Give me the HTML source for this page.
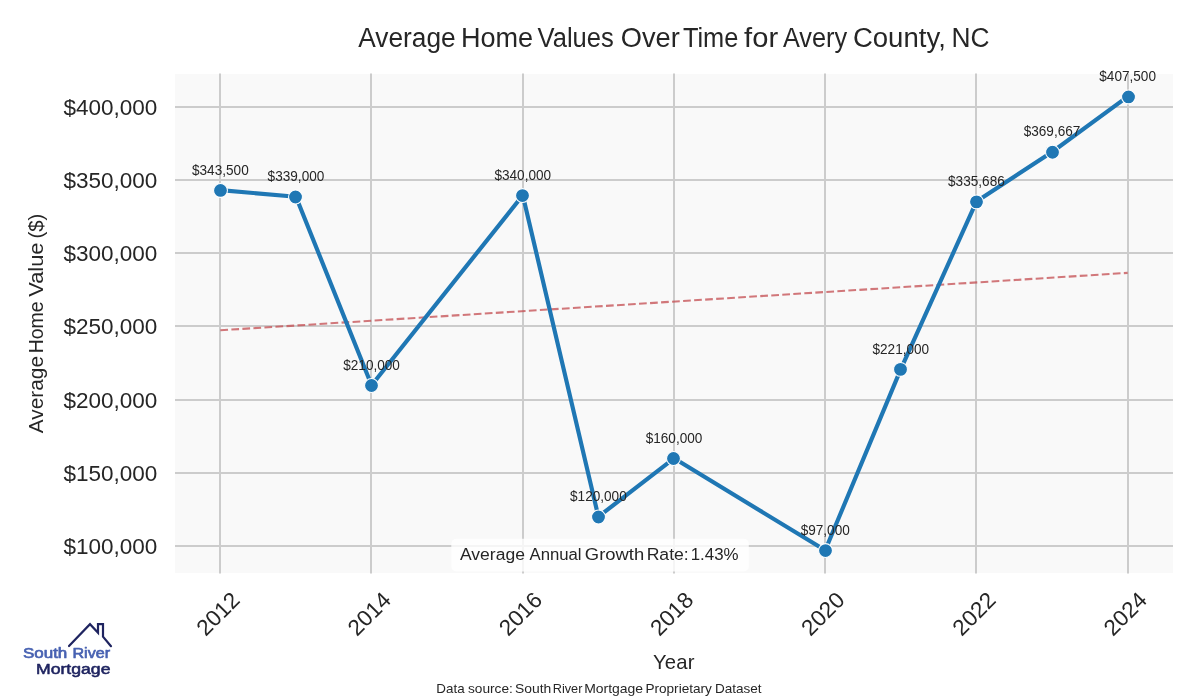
<!DOCTYPE html>
<html lang="en"><head><meta charset="utf-8"><title>Average Home Values Over Time for Avery County, NC</title>
<style>
html,body{margin:0;padding:0;background:#fff;}
body{width:1200px;height:700px;overflow:hidden;}
svg{display:block;}
text{font-family:"Liberation Sans",Arial,sans-serif;fill:#262626;}
.tick{font-size:22.5px;}
.ann{font-size:14.5px;text-anchor:middle;}
</style></head><body>
<svg width="1200" height="700" viewBox="0 0 1200 700">
<rect x="0" y="0" width="1200" height="700" fill="#ffffff"/>
<rect x="175" y="74" width="998" height="499" fill="#f9f9f9"/>
<g stroke="#cccccc" stroke-width="2" stroke-linecap="butt">
<line x1="220" y1="73.5" x2="220" y2="573.5"/>
<line x1="371" y1="73.5" x2="371" y2="573.5"/>
<line x1="523" y1="73.5" x2="523" y2="573.5"/>
<line x1="674" y1="73.5" x2="674" y2="573.5"/>
<line x1="825" y1="73.5" x2="825" y2="573.5"/>
<line x1="976" y1="73.5" x2="976" y2="573.5"/>
<line x1="1128" y1="73.5" x2="1128" y2="573.5"/>
<line x1="175" y1="546" x2="1173" y2="546"/>
<line x1="175" y1="473" x2="1173" y2="473"/>
<line x1="175" y1="400" x2="1173" y2="400"/>
<line x1="175" y1="326" x2="1173" y2="326"/>
<line x1="175" y1="253" x2="1173" y2="253"/>
<line x1="175" y1="180" x2="1173" y2="180"/>
<line x1="175" y1="107" x2="1173" y2="107"/>
</g>
<line x1="220.36" y1="330.28" x2="1127.64" y2="272.88" stroke="#c44e52" stroke-opacity="0.76" stroke-width="2.08" stroke-dasharray="7.71 3.33"/>
<polyline points="220.36,190.18 295.97,196.76 371.58,385.23 522.79,195.30 598.39,516.72 674.00,458.28 825.21,550.32 900.82,369.16 976.42,201.60 1052.03,151.96 1127.64,96.68" fill="none" stroke="#1f77b4" stroke-width="4.17" stroke-linejoin="round" stroke-linecap="round"/>
<g fill="#1f77b4" stroke="#ffffff" stroke-width="1.04">
<circle cx="220.50" cy="190.43" r="6.94"/>
<circle cx="295.50" cy="197.01" r="6.94"/>
<circle cx="371.50" cy="385.48" r="6.94"/>
<circle cx="522.50" cy="195.55" r="6.94"/>
<circle cx="598.50" cy="516.97" r="6.94"/>
<circle cx="673.50" cy="458.53" r="6.94"/>
<circle cx="825.50" cy="550.57" r="6.94"/>
<circle cx="900.50" cy="369.41" r="6.94"/>
<circle cx="976.50" cy="201.85" r="6.94"/>
<circle cx="1052.50" cy="152.21" r="6.94"/>
<circle cx="1128.50" cy="96.93" r="6.94"/>
</g>
<g class="ann">
<text transform="translate(220.36 174.58) scale(0.939 1)">$343,500</text>
<text transform="translate(295.97 181.16) scale(0.939 1)">$339,000</text>
<text transform="translate(371.58 369.63) scale(0.939 1)">$210,000</text>
<text transform="translate(522.79 179.70) scale(0.939 1)">$340,000</text>
<text transform="translate(598.39 501.12) scale(0.939 1)">$120,000</text>
<text transform="translate(674.00 442.68) scale(0.939 1)">$160,000</text>
<text transform="translate(825.21 534.72) scale(0.939 1)">$97,000</text>
<text transform="translate(900.82 353.56) scale(0.939 1)">$221,000</text>
<text transform="translate(976.42 186.00) scale(0.939 1)">$335,686</text>
<text transform="translate(1052.03 136.36) scale(0.939 1)">$369,667</text>
<text transform="translate(1127.64 81.08) scale(0.939 1)">$407,500</text>
</g>
<rect x="451.3" y="538.7" width="297.5" height="32.8" rx="5" ry="5" fill="#ffffff" fill-opacity="0.8"/>
<g font-size="15.6" ><text transform="translate(459.97 559.6) scale(1.1241 1)">Average</text> <text transform="translate(529.47 559.6) scale(1.0737 1)">Annual</text> <text transform="translate(584.87 559.6) scale(1.1798 1)">Growth</text> <text transform="translate(646.65 559.6) scale(1.1306 1)">Rate:</text> <text transform="translate(690.71 559.6) scale(1.0826 1)">1.43%</text></g>
<g class="tick" text-anchor="end">
<text x="157.3" y="553.90">$100,000</text>
<text x="157.3" y="480.90">$150,000</text>
<text x="157.3" y="407.90">$200,000</text>
<text x="157.3" y="333.90">$250,000</text>
<text x="157.3" y="260.90">$300,000</text>
<text x="157.3" y="187.90">$350,000</text>
<text x="157.3" y="114.90">$400,000</text>
</g>
<g class="tick" text-anchor="middle">
<text x="217.86" y="621.50" transform="rotate(-45 217.86 613.60)">2012</text>
<text x="369.08" y="621.50" transform="rotate(-45 369.08 613.60)">2014</text>
<text x="520.29" y="621.50" transform="rotate(-45 520.29 613.60)">2016</text>
<text x="671.50" y="621.50" transform="rotate(-45 671.50 613.60)">2018</text>
<text x="822.71" y="621.50" transform="rotate(-45 822.71 613.60)">2020</text>
<text x="973.92" y="621.50" transform="rotate(-45 973.92 613.60)">2022</text>
<text x="1125.14" y="621.50" transform="rotate(-45 1125.14 613.60)">2024</text>
</g>
<g font-size="26.8" ><text transform="translate(358.25 47) scale(0.9810 1)">Average</text> <text transform="translate(460.98 47) scale(1.0103 1)">Home</text> <text transform="translate(537.59 47) scale(0.9523 1)">Values</text> <text transform="translate(620.71 47) scale(1.0167 1)">Over</text> <text transform="translate(682.93 47) scale(0.9470 1)">Time</text> <text transform="translate(744.09 47) scale(1.0870 1)">for</text> <text transform="translate(782.95 47) scale(0.9444 1)">Avery</text> <text transform="translate(852.90 47) scale(1.0283 1)">County,</text> <text transform="translate(951.44 47) scale(0.9834 1)">NC</text></g>
<text x="653" y="668.9" font-size="20.3" textLength="41.5" lengthAdjust="spacing">Year</text>
<g font-size="20.3" transform="translate(43.2 433.1) rotate(-90)"><text transform="translate(-0.04 0) scale(1.0259 1)">Average</text> <text transform="translate(79.81 0) scale(0.9557 1)">Home</text> <text transform="translate(136.30 0) scale(1.0760 1)">Value</text> <text transform="translate(194.64 0) scale(1.0003 1)">($)</text></g>
<g font-size="13" ><text transform="translate(436.30 692.8) scale(1.0306 1)">Data</text> <text transform="translate(467.92 692.8) scale(1.0540 1)">source:</text> <text transform="translate(514.97 692.8) scale(1.0695 1)">South</text> <text transform="translate(552.76 692.8) scale(0.9775 1)">River</text> <text transform="translate(584.16 692.8) scale(1.0737 1)">Mortgage</text> <text transform="translate(645.38 692.8) scale(1.0482 1)">Proprietary</text> <text transform="translate(714.89 692.8) scale(1.0426 1)">Dataset</text></g>
<path d="M69 646 L90 624.2 L98 632.8 L98 624.2 L103 624.2 L103 636.6 L111 646.2" fill="none" stroke="#1f2460" stroke-width="2.2" stroke-linecap="round" stroke-linejoin="miter"/>
<text transform="translate(22.98 658.2) scale(1.1026 1)" font-size="15.4" style="fill:#4862b2;stroke:#4862b2;stroke-width:0.7px;stroke-linejoin:round">South</text>
<text transform="translate(72.43 658.2) scale(1.0460 1)" font-size="15.4" style="fill:#4862b2;stroke:#4862b2;stroke-width:0.7px;stroke-linejoin:round">River</text>
<text transform="translate(36.00 674.3) scale(1.1607 1)" font-size="15.2" style="fill:#1f2460;stroke:#1f2460;stroke-width:0.55px;stroke-linejoin:round">Mortgage</text>
</svg></body></html>
